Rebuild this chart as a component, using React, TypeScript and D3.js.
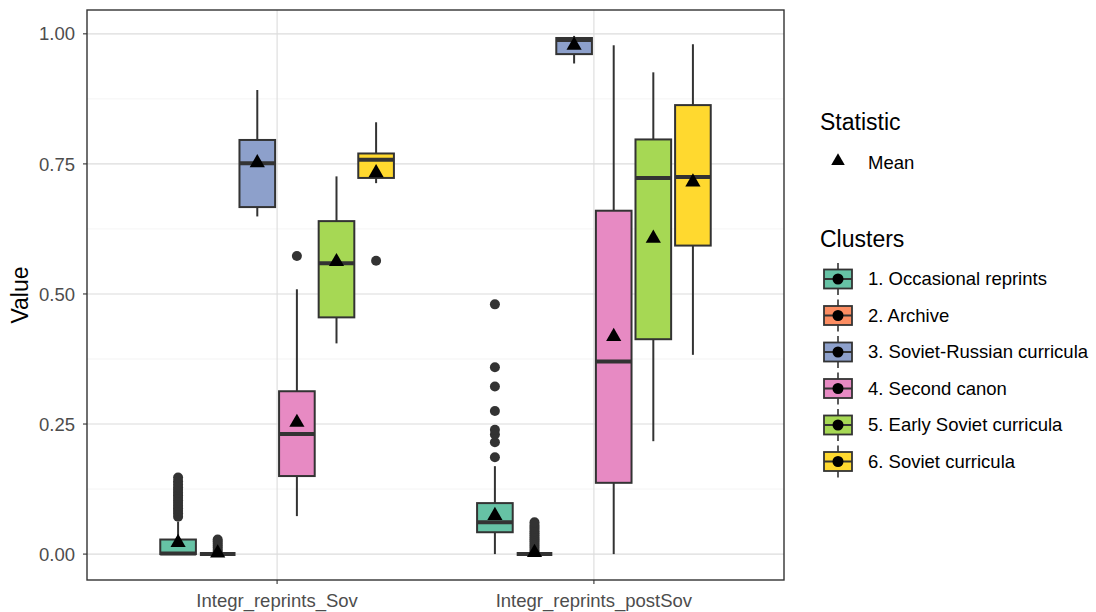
import React from 'react';
import * as d3 from 'd3';

const groups = ['Integr_reprints_Sov', 'Integr_reprints_postSov'];
const clusters = [
  '1. Occasional reprints',
  '2. Archive',
  '3. Soviet-Russian curricula',
  '4. Second canon',
  '5. Early Soviet curricula',
  '6. Soviet curricula',
];
const colors = ['#66C2A5', '#FC8D62', '#8DA0CB', '#E78AC3', '#A6D854', '#FFD92F'];

// box stats per group, one entry per cluster
const whiskerLow = [
  [0, 0, 0.649, 0.073, 0.405, 0.713],
  [0, 0, 0.943, 0, 0.217, 0.383],
];
const q1 = [
  [0, 0, 0.667, 0.15, 0.455, 0.723],
  [0.042, 0, 0.961, 0.137, 0.413, 0.593],
];
const median = [
  [0.001, 0, 0.751, 0.231, 0.559, 0.758],
  [0.061, 0, 0.988, 0.37, 0.723, 0.725],
];
const q3 = [
  [0.028, 0, 0.796, 0.313, 0.64, 0.77],
  [0.098, 0, 0.992, 0.66, 0.797, 0.863],
];
const whiskerHigh = [
  [0.062, 0, 0.892, 0.509, 0.726, 0.83],
  [0.169, 0, 0.996, 0.978, 0.926, 0.98],
];
const means = [
  [0.022, 0.002, 0.752, 0.253, 0.562, 0.733],
  [0.074, 0.003, 0.978, 0.418, 0.607, 0.715],
];
const outliers = [
  [
    [0.072, 0.078, 0.083, 0.088, 0.093, 0.098, 0.103, 0.108, 0.113, 0.118, 0.123, 0.128, 0.134, 0.14, 0.147],
    [0.004, 0.008, 0.012, 0.016, 0.02, 0.024, 0.028],
    [],
    [0.573],
    [],
    [0.564],
  ],
  [
    [0.186, 0.215, 0.23, 0.239, 0.275, 0.322, 0.359, 0.48],
    [0.004, 0.008, 0.012, 0.016, 0.02, 0.024, 0.028, 0.032, 0.036, 0.04, 0.044, 0.048, 0.052, 0.056, 0.061],
    [],
    [],
    [],
    [],
  ],
];

const W = 1096;
const H = 612;
const panel = { left: 87, right: 784, top: 10, bottom: 580 };
const font = 'Liberation Sans, Arial, Helvetica, sans-serif';
const ink = '#333333';

const App = () => {
  const y = d3.scaleLinear().domain([-0.0498, 1.0458]).range([panel.bottom, panel.top]);
  // discrete axis like ggplot: positions 1..n with 0.6 expansion
  const xPos = d3.scaleLinear().domain([0.4, 2.6]).range([panel.left, panel.right]);
  const unit = xPos(2) - xPos(1);
  const slot = (0.75 / clusters.length) * unit;
  const boxW = slot * 0.9;

  const majorTicks = [0, 0.25, 0.5, 0.75, 1];
  const minorTicks = [0.125, 0.375, 0.625, 0.875];
  const tri = d3.symbol().type(d3.symbolTriangle).size(100)();
  const triLegend = d3.symbol().type(d3.symbolTriangle).size(80)();

  return (
    <svg width={W} height={H} style={{ position: 'absolute', left: 0, top: 0, background: '#fff' }} fontFamily={font}>
      <rect x={0} y={0} width={W} height={H} fill="#fff" />
      {/* grid */}
      {minorTicks.map((t) => (
        <line key={'mi' + t} x1={panel.left} x2={panel.right} y1={y(t)} y2={y(t)} stroke="#ececec" strokeWidth={0.6} />
      ))}
      {majorTicks.map((t) => (
        <line key={'ma' + t} x1={panel.left} x2={panel.right} y1={y(t)} y2={y(t)} stroke="#dcdcdc" strokeWidth={1.1} />
      ))}
      {groups.map((g, gi) => (
        <line key={'vg' + g} x1={xPos(gi + 1)} x2={xPos(gi + 1)} y1={panel.top} y2={panel.bottom} stroke="#dcdcdc" strokeWidth={1.1} />
      ))}

      {/* boxes */}
      {groups.map((g, gi) =>
        clusters.map((c, ci) => {
          const cx = xPos(gi + 1) + (ci - 2.5) * slot;
          const x0 = cx - boxW / 2;
          return (
            <g key={g + c}>
              <line x1={cx} x2={cx} y1={y(whiskerHigh[gi][ci])} y2={y(q3[gi][ci])} stroke={ink} strokeWidth={2} />
              <line x1={cx} x2={cx} y1={y(q1[gi][ci])} y2={y(whiskerLow[gi][ci])} stroke={ink} strokeWidth={2} />
              <rect
                x={x0}
                y={y(q3[gi][ci])}
                width={boxW}
                height={Math.max(0, y(q1[gi][ci]) - y(q3[gi][ci]))}
                fill={colors[ci]}
                stroke={ink}
                strokeWidth={2}
              />
              <line x1={x0} x2={x0 + boxW} y1={y(median[gi][ci])} y2={y(median[gi][ci])} stroke={ink} strokeWidth={4} />
              {outliers[gi][ci].map((v, k) => (
                <circle key={k} cx={cx} cy={y(v)} r={5} fill={ink} />
              ))}
            </g>
          );
        })
      )}

      {/* means */}
      {groups.map((g, gi) =>
        clusters.map((c, ci) => {
          const cx = xPos(gi + 1) + (ci - 2.5) * slot;
          return <path key={'m' + g + c} d={tri} transform={`translate(${cx},${y(means[gi][ci])})`} fill="#000" />;
        })
      )}

      {/* panel border */}
      <rect x={panel.left} y={panel.top} width={panel.right - panel.left} height={panel.bottom - panel.top} fill="none" stroke={ink} strokeWidth={1.4} />

      {/* y axis */}
      {majorTicks.map((t) => (
        <g key={'yt' + t}>
          <line x1={panel.left - 4} x2={panel.left} y1={y(t)} y2={y(t)} stroke={ink} strokeWidth={1.1} />
          <text x={panel.left - 12} y={y(t)} dy="0.36em" textAnchor="end" fontSize={18.5} fill="#4d4d4d">
            {d3.format('.2f')(t)}
          </text>
        </g>
      ))}
      <text transform={`translate(28,${(panel.top + panel.bottom) / 2}) rotate(-90)`} textAnchor="middle" fontSize={23} fill="#000">
        Value
      </text>

      {/* x axis */}
      {groups.map((g, gi) => (
        <g key={'xt' + g}>
          <line x1={xPos(gi + 1)} x2={xPos(gi + 1)} y1={panel.bottom} y2={panel.bottom + 4} stroke={ink} strokeWidth={1.1} />
          <text x={xPos(gi + 1)} y={panel.bottom + 27} textAnchor="middle" fontSize={18.5} fill="#4d4d4d">
            {g}
          </text>
        </g>
      ))}

      {/* legend: statistic */}
      <text x={820} y={130} fontSize={23} fill="#000">Statistic</text>
      <path d={triLegend} transform="translate(838,161)" fill="#000" />
      <text x={868} y={163} dy="0.35em" fontSize={18.5} fill="#000">Mean</text>

      {/* legend: clusters */}
      <text x={820} y={247} fontSize={23} fill="#000">Clusters</text>
      {clusters.map((c, ci) => {
        const cy = 279 + ci * 36.5;
        return (
          <g key={'lg' + c}>
            <line x1={838} x2={838} y1={cy - 16} y2={cy + 16} stroke={ink} strokeWidth={1.6} />
            <rect x={824} y={cy - 9.5} width={28} height={19} fill={colors[ci]} stroke={ink} strokeWidth={1.8} />
            <line x1={824} x2={852} y1={cy} y2={cy} stroke={ink} strokeWidth={2} />
            <circle cx={838} cy={cy} r={5.5} fill="#000" />
            <text x={868} y={cy} dy="0.35em" fontSize={18.5} fill="#000">
              {c}
            </text>
          </g>
        );
      })}
    </svg>
  );
};

export default App;
